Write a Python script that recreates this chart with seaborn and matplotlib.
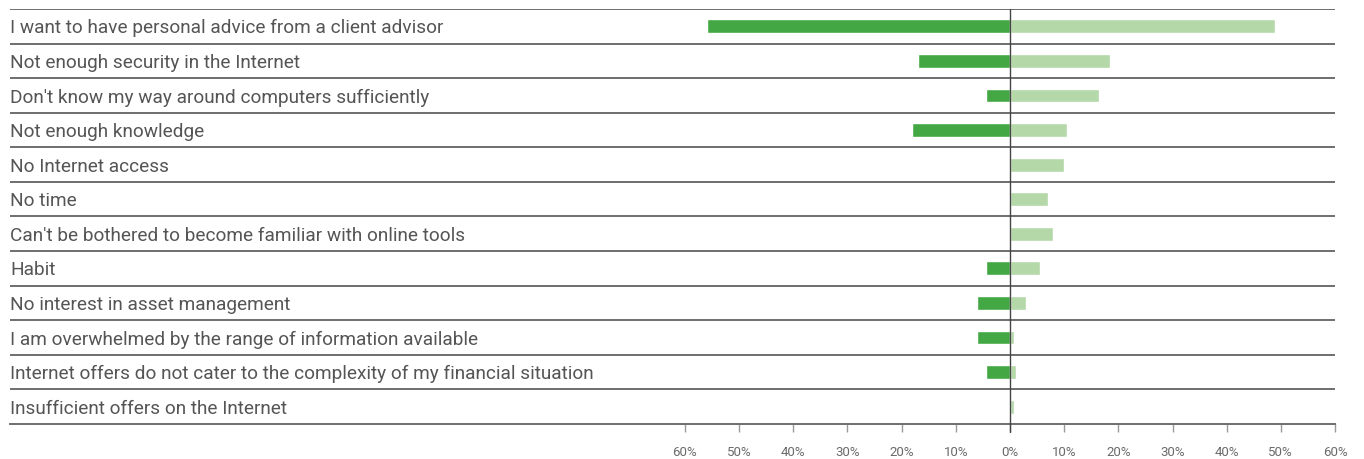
import matplotlib
matplotlib.use("Agg")
import matplotlib.pyplot as plt
import seaborn as sns
import pandas as pd

categories = [
    "I want to have personal advice from a client advisor",
    "Not enough security in the Internet",
    "Don't know my way around computers sufficiently",
    "Not enough knowledge",
    "No Internet access",
    "No time",
    "Can't be bothered to become familiar with online tools",
    "Habit",
    "No interest in asset management",
    "I am overwhelmed by the range of information available",
    "Internet offers do not cater to the complexity of my financial situation",
    "Insufficient offers on the Internet",
]
left_values = [56, 17, 4.5, 18, 0, 0, 0, 4.5, 6, 6, 4.5, 0]
right_values = [49, 18.5, 16.5, 10.5, 10, 7, 8, 5.5, 3, 0.8, 1.1, 0.8]
tick_values = [-60, -50, -40, -30, -20, -10, 0, 10, 20, 30, 40, 50, 60]
tick_labels = ["60%", "50%", "40%", "30%", "20%", "10%", "0%",
               "10%", "20%", "30%", "40%", "50%", "60%"]

DARK = "#43a843"
LIGHT = "#b5d8a8"
LINE = "#6e6e6e"
TEXT = "#555555"

sns.set_theme(style="white")
plt.rcParams["font.family"] = ["Roboto", "DejaVu Sans"]

df = pd.DataFrame({
    "category": categories,
    "left": [-v for v in left_values],
    "right": right_values,
})

fig = plt.figure(figsize=(13.64, 4.59), dpi=100)
W, H = 1364, 459
x0, x1 = 10, 1335
y_top, y_bot = 9, 424
ax = fig.add_axes([x0 / W, (H - y_bot) / H, (x1 - x0) / W, (y_bot - y_top) / H])

sns.barplot(data=df, x="right", y="category", order=categories, color=LIGHT,
            width=0.4, orient="h", ax=ax, saturation=1)
sns.barplot(data=df, x="left", y="category", order=categories, color=DARK,
            width=0.4, orient="h", ax=ax, saturation=1)

# data x-range: 0 sits at pixel 1009, 10% spans ~54.2 px
px_per_unit = (1335 - 685) / 120.0
xmin = 60 - (x1 - x0) / px_per_unit
ax.set_xlim(xmin, 60)
n = len(categories)
ax.set_ylim(n - 0.5, -0.5)

# row separators
for i in range(n):
    ax.axhline(i - 0.5, color=LINE, lw=1.4, zorder=0.5)

# zero line, running a little below the axis like a tick
ax.axvline(0, color="#444444", lw=1.0, zorder=3, ymin=-0.02, clip_on=False)

for s in ["top", "left", "right"]:
    ax.spines[s].set_visible(False)
ax.spines["bottom"].set_color(LINE)
ax.spines["bottom"].set_linewidth(1.4)

ax.set_xticks(tick_values)
ax.set_xticklabels(tick_labels)
ax.tick_params(axis="x", bottom=True, length=6, width=1, color="#9a9a9a",
               labelsize=9.5, labelcolor="#6a6a6a", pad=10)
ax.set_yticks([])
ax.set_xlabel("")
ax.set_ylabel("")

for i, label in enumerate(categories):
    ax.text(0.0, i + 0.06, label, transform=ax.get_yaxis_transform(), ha="left",
            va="center", fontsize=13.7, color=TEXT)

fig.savefig("out.png", dpi=100, facecolor="white")
